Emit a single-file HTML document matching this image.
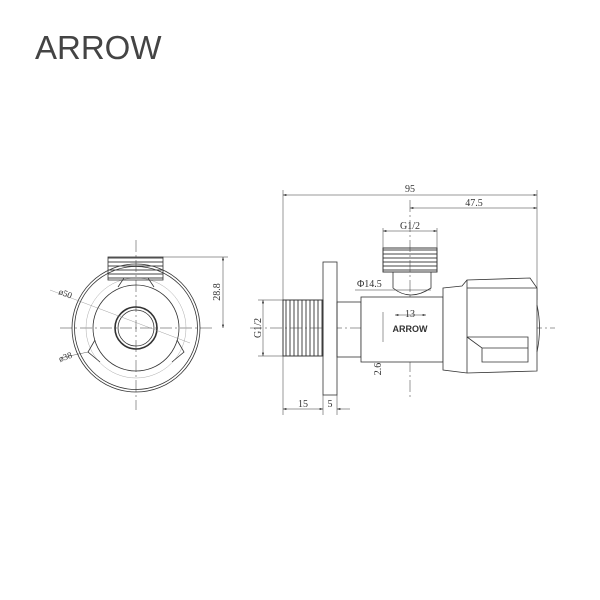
<!DOCTYPE html>
<html><head><style>body{margin:0;background:#fff}svg{display:block}</style></head><body>
<svg width="600" height="600" viewBox="0 0 600 600" xmlns="http://www.w3.org/2000/svg" font-family="Liberation Serif, serif">
<rect width="600" height="600" fill="#fff"/>
<text x="35" y="59" font-family="Liberation Sans, sans-serif" font-size="33" fill="#444">ARROW</text>
<defs>
<marker id="a" viewBox="0 0 10 6" refX="10" refY="3" markerWidth="7" markerHeight="4" orient="auto-start-reverse"><path d="M0,0L10,3L0,6z" fill="#222"/></marker>
<pattern id="th" width="4" height="4" patternUnits="userSpaceOnUse"><line x1="0" y1="2" x2="4" y2="2" stroke="#444" stroke-width="1"/></pattern>
<pattern id="tv" width="4" height="4" patternUnits="userSpaceOnUse"><line x1="2" y1="0" x2="2" y2="4" stroke="#444" stroke-width="1"/></pattern>
</defs>
<g fill="none" stroke="#333" stroke-width="0.8">
<!-- left view -->
<line x1="60" y1="328" x2="215" y2="328" stroke-dasharray="12,3,2,3" stroke-width="0.5"/>
<line x1="136" y1="240" x2="136" y2="410" stroke-dasharray="12,3,2,3" stroke-width="0.5"/>
<circle cx="136" cy="328" r="64"/>
<circle cx="136" cy="328" r="61.5"/>
<circle cx="136" cy="328" r="50" stroke="#aaa" stroke-width="0.5"/>
<circle cx="136" cy="328" r="43"/>
<circle cx="136" cy="328" r="21" stroke-width="1.6"/>
<circle cx="136" cy="328" r="18"/>
<path d="M95,340 L88,352 L100,362 M177,340 L184,352 L172,362"/>
<path d="M118,287 L124,278 L148,278 L154,287"/>
<rect x="108" y="257" width="55" height="23" fill="url(#th)"/>
<line x1="163" y1="257" x2="228" y2="257" stroke-width="0.5"/>
<line x1="223" y1="257" x2="223" y2="328" marker-start="url(#a)" marker-end="url(#a)" stroke-width="0.5"/>
<line x1="50" y1="290" x2="190" y2="343" stroke-width="0.4" stroke="#888"/>
<line x1="60" y1="358" x2="88" y2="352" stroke-width="0.4"/>
<!-- right view -->
<line x1="250" y1="328" x2="555" y2="328" stroke-dasharray="12,3,2,3" stroke-width="0.5"/>
<line x1="410" y1="200" x2="410" y2="400" stroke-dasharray="12,3,2,3" stroke-width="0.5"/>
<line x1="283" y1="190" x2="283" y2="415" stroke-width="0.5"/>
<line x1="537" y1="190" x2="537" y2="300" stroke-width="0.5"/>
<line x1="283" y1="195" x2="537" y2="195" marker-start="url(#a)" marker-end="url(#a)" stroke-width="0.5"/>
<line x1="410" y1="208" x2="537" y2="208" marker-start="url(#a)" marker-end="url(#a)" stroke-width="0.5"/>
<line x1="383" y1="228" x2="383" y2="248" stroke-width="0.5"/>
<line x1="437" y1="228" x2="437" y2="248" stroke-width="0.5"/>
<line x1="383" y1="231" x2="437" y2="231" marker-start="url(#a)" marker-end="url(#a)" stroke-width="0.5"/>
<rect x="383" y="248" width="54" height="24" fill="url(#th)"/>
<rect x="383" y="248" width="54" height="24"/>
<path d="M393,272 V288 Q410,302 431,288 V272"/>
<line x1="355" y1="290" x2="431" y2="290" stroke-width="0.5"/>
<rect x="323" y="262" width="14" height="133" fill="#fff"/>
<rect x="283" y="300" width="40" height="56" fill="url(#tv)"/>
<rect x="283" y="300" width="40" height="56"/>
<rect x="337" y="302" width="24" height="55"/>
<rect x="361" y="297" width="82" height="65" fill="#fff"/>
<path d="M443,288 L462,286 L467,280 L530,278 L537,288 L537,371 L467,373 L443,370 Z" fill="#fff"/>
<line x1="467" y1="280" x2="467" y2="373"/>
<path d="M467,288 H537"/>
<path d="M467,337 L482,348 H528 M482,348 V362 H528 V337 H467"/>
<path d="M537,305 Q542,328 537,352"/>
<line x1="263" y1="300" x2="263" y2="356" marker-start="url(#a)" marker-end="url(#a)" stroke-width="0.5"/>
<line x1="258" y1="300" x2="283" y2="300" stroke-width="0.5"/>
<line x1="258" y1="356" x2="283" y2="356" stroke-width="0.5"/>
<line x1="323" y1="395" x2="323" y2="415" stroke-width="0.5"/>
<line x1="337" y1="395" x2="337" y2="415" stroke-width="0.5"/>
<line x1="283" y1="409" x2="323" y2="409" marker-start="url(#a)" marker-end="url(#a)" stroke-width="0.5"/>
<line x1="337" y1="409" x2="350" y2="409" marker-start="url(#a)" stroke-width="0.5"/>
<line x1="395" y1="315" x2="426" y2="315" marker-start="url(#a)" marker-end="url(#a)" stroke-width="0.5"/>
<line x1="383" y1="312" x2="383" y2="342" stroke-width="0.5"/>
</g>
<g fill="#333" font-size="10">
<text x="58" y="294" transform="rotate(20 58 294)" font-size="9">ø50</text>
<text x="60" y="362" transform="rotate(-20 60 362)" font-size="9">ø38</text>
<text x="220" y="292" transform="rotate(-90 220 292)" text-anchor="middle">28.8</text>
<text x="410" y="192" text-anchor="middle">95</text>
<text x="474" y="206" text-anchor="middle">47.5</text>
<text x="410" y="229" text-anchor="middle">G1/2</text>
<text x="357" y="287">Φ14.5</text>
<text x="410" y="317" text-anchor="middle">13</text>
<text x="410" y="332" text-anchor="middle" font-family="Liberation Sans, sans-serif" font-weight="bold" font-size="9">ARROW</text>
<text x="381" y="369" transform="rotate(-90 381 369)" text-anchor="middle">2.6</text>
<text x="261" y="328" transform="rotate(-90 261 328)" text-anchor="middle">G1/2</text>
<text x="303" y="407" text-anchor="middle">15</text>
<text x="330" y="407" text-anchor="middle">5</text>
</g>
</svg>
</body></html>
